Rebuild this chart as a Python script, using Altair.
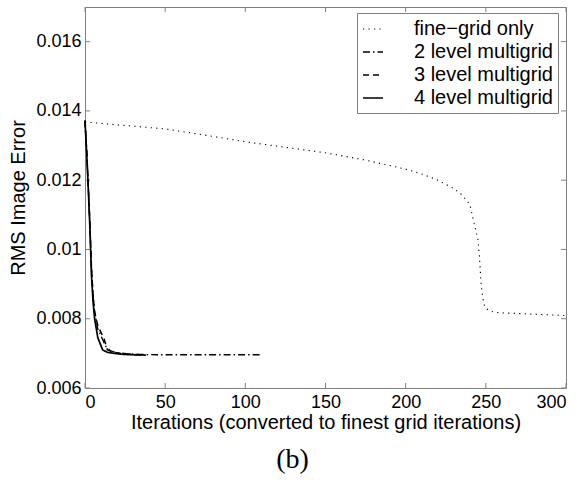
import altair as alt
import pandas as pd

# ---- data ----
fine_x = [0, 25, 50, 75, 100, 125, 150, 175, 200, 210, 220, 230, 235, 240, 242, 244, 245, 246,
          247, 248, 249, 250, 252, 255, 260, 270, 280, 290, 300]
fine_y = [0.01368, 0.01358, 0.01348, 0.01330, 0.01311, 0.01295, 0.01279, 0.01258, 0.01232,
          0.01218, 0.01200, 0.01176, 0.01158, 0.01130, 0.01090, 0.01050, 0.01030, 0.00980,
          0.00905, 0.00862, 0.00840, 0.00830, 0.00824, 0.00819, 0.00817, 0.00815, 0.00813,
          0.00811, 0.00809]

mg2_x = [0, 1, 2, 3, 4, 5, 6, 8, 10, 13, 16, 20, 26, 34, 45, 60, 80, 110]
mg2_y = [0.01372, 0.0129, 0.0119, 0.0108, 0.0095, 0.0087, 0.0082, 0.0077, 0.0075, 0.0072,
         0.00707, 0.00702, 0.00699, 0.00697, 0.00696, 0.00696, 0.00696, 0.00696]

mg3_x = [0, 1, 2, 3, 4, 5, 6, 8, 10, 12, 14, 18, 24, 30, 36]
mg3_y = [0.01372, 0.0129, 0.0119, 0.0108, 0.0095, 0.0087, 0.0082, 0.0078, 0.0076, 0.0074,
         0.0071, 0.00703, 0.00699, 0.00697, 0.00695]

mg4_x = [0, 1, 2, 3, 4, 5, 6, 8, 11, 14, 18, 24, 30, 38]
mg4_y = [0.01372, 0.0128, 0.0118, 0.0107, 0.0093, 0.0085, 0.0080, 0.00745, 0.0071, 0.00703,
         0.00700, 0.00697, 0.00696, 0.00695]

series_names = ["fine\u2212grid only", "2 level multigrid", "3 level multigrid", "4 level multigrid"]
x_ticks = [0, 50, 100, 150, 200, 250, 300]
y_ticks = [0.006, 0.008, 0.01, 0.012, 0.014, 0.016]

# ---- build table ----
rows = []
for name, xs, ys in zip(series_names, [fine_x, mg2_x, mg3_x, mg4_x], [fine_y, mg2_y, mg3_y, mg4_y]):
    for xv, yv in zip(xs, ys):
        rows.append({"series": name, "x": xv, "y": yv})
df = pd.DataFrame(rows)

W, H = 481, 381
FONT = "Liberation Sans"
GRAY = "#808080"

xscale = alt.Scale(domain=[0, 300], nice=False, zero=False)
yscale = alt.Scale(domain=[0.006, 0.017], nice=False, zero=False)

lines = alt.Chart(df).mark_line(color="black", strokeCap="butt").encode(
    x=alt.X("x:Q", scale=xscale,
            axis=alt.Axis(values=x_ticks, title="Iterations (converted to finest grid iterations)",
                          labelPadding=5, titlePadding=1)),
    y=alt.Y("y:Q", scale=yscale,
            axis=alt.Axis(values=y_ticks, format="~g", title="RMS Image Error",
                          labelPadding=4, titlePadding=7)),
    strokeDash=alt.StrokeDash(
        "series:N",
        scale=alt.Scale(domain=series_names,
                        range=[[1.2, 4.3], [7, 3, 1.5, 3], [6, 4], [1, 0]]),
        legend=alt.Legend(title=None, orient="none", legendX=272, legendY=6,
                          symbolType="stroke", symbolSize=400, symbolStrokeWidth=1.6,
                          symbolStrokeColor="black", labelFontSize=20, labelFont=FONT,
                          labelOffset=30, rowPadding=2, padding=5,
                          strokeColor=GRAY, fillColor="white", labelLimit=400),
    ),
    strokeWidth=alt.StrokeWidth(
        "series:N",
        scale=alt.Scale(domain=series_names, range=[1.1, 1.7, 1.7, 1.9]),
        legend=None,
    ),
    order="x:Q",
)

ydf = pd.DataFrame({"yt": y_ticks})
xdf = pd.DataFrame({"xt": x_ticks})

yt_left = alt.Chart(ydf).mark_rule(color=GRAY).encode(
    y=alt.Y("yt:Q", scale=yscale), x=alt.value(0), x2=alt.value(5))
yt_right = alt.Chart(ydf).mark_rule(color=GRAY).encode(
    y=alt.Y("yt:Q", scale=yscale), x=alt.value(W - 5), x2=alt.value(W))
xt_bottom = alt.Chart(xdf).mark_rule(color=GRAY).encode(
    x=alt.X("xt:Q", scale=xscale), y=alt.value(H - 5), y2=alt.value(H))
xt_top = alt.Chart(xdf).mark_rule(color=GRAY).encode(
    x=alt.X("xt:Q", scale=xscale), y=alt.value(0), y2=alt.value(5))

chart = alt.layer(yt_left, yt_right, xt_bottom, xt_top, lines).properties(
    width=W, height=H,
    autosize=alt.AutoSizeParams(type="none"),
    padding={"left": 85, "top": 7, "right": 17, "bottom": 92},
    title=alt.TitleParams("(b)", orient="bottom", font="Liberation Serif", fontSize=28,
                          fontWeight="normal", color="black", dx=-33, offset=14),
).configure_view(
    stroke=GRAY, strokeWidth=1
).configure_axis(
    grid=False, ticks=False, domain=False,
    labelFont=FONT, labelFontSize=18, labelColor="black",
    titleFont=FONT, titleFontSize=20, titleFontWeight="normal", titleColor="black",
)

chart.save("out.html", embed_options={"renderer": "svg", "actions": False})
